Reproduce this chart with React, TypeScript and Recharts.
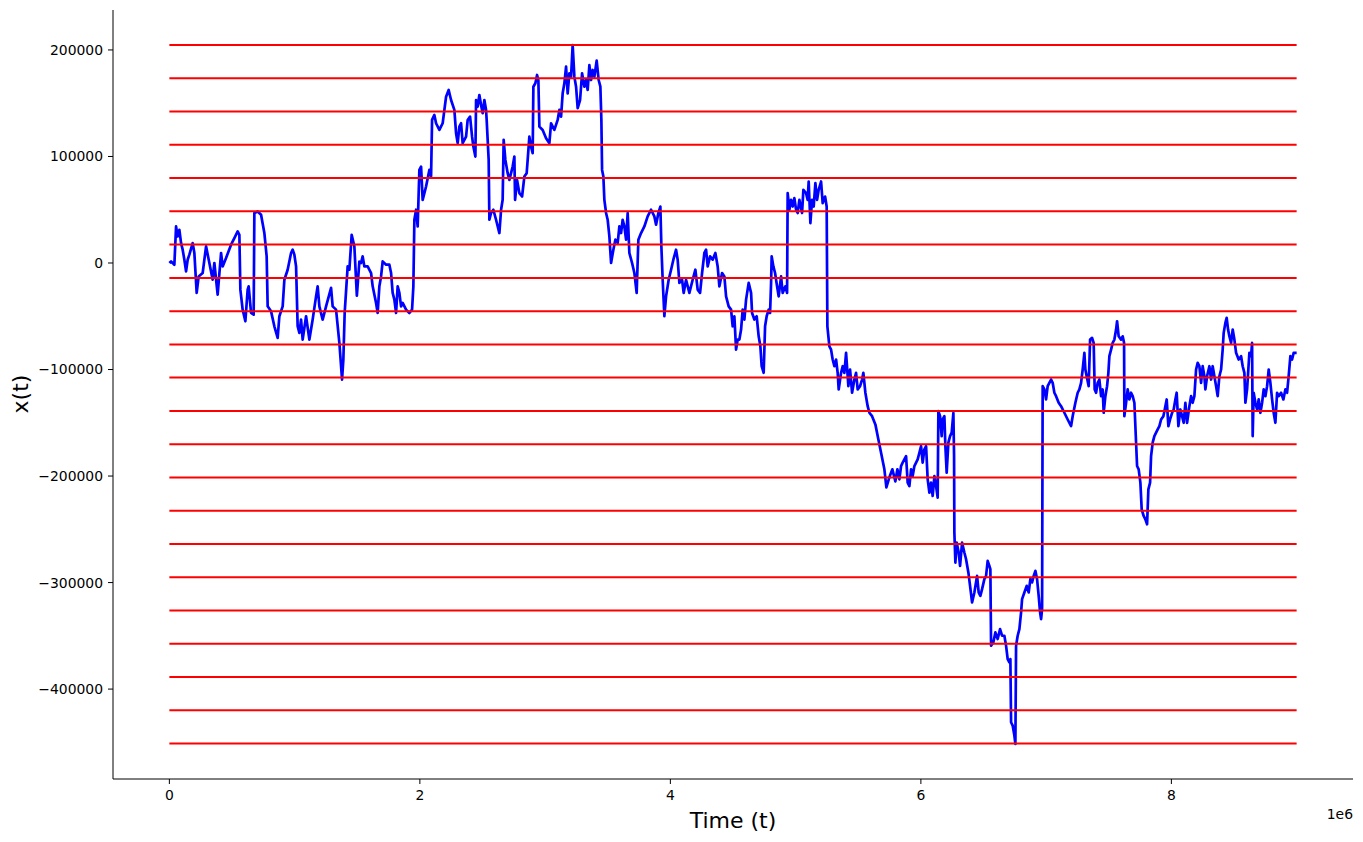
import { LineChart, Line, XAxis, YAxis } from 'recharts'

// random walk x(t): [time, position]
const WALK: [number, number][] = [
  [0, 0], [13600, 1500], [39900, -1600], [53500, 34300], [66300, 24900], [79800, 31200],
  [93400, 18700], [106200, 12500], [119800, 3100], [133300, -7900], [146100, 3100], [159700, 7800],
  [186000, 18700], [199600, 9400], [218000, -28100], [233900, -12600], [265900, -9400], [293000, 15600],
  [319400, 0], [345700, -15700], [359300, 0], [385600, -29700], [412800, 9400], [425600, -3200],
  [452700, 4700], [492600, 17200], [519000, 23400], [545300, 29600], [558900, 26500], [566900, -25000],
  [585200, -43800], [606800, -54700], [625100, -25000], [633100, -21900], [652300, -46900], [673000, -48500],
  [678600, 46900], [705000, 48400], [732100, 45300], [758500, 28100], [776800, 6200], [784800, -40700],
  [812000, -45400], [838300, -59400], [864700, -70300], [878200, -50000], [904600, -40700], [918200, -15700],
  [944500, -6300], [971600, 9400], [984400, 12500], [998000, 7800], [1011600, -3200], [1024300, -59400],
  [1037900, -65600], [1051500, -53100], [1064300, -71900], [1091400, -50000], [1117800, -71900], [1144100, -53100],
  [1171200, -31300], [1184000, -21900], [1197600, -40700], [1223900, -53100], [1251100, -40700], [1291000, -23400],
  [1303800, -40700], [1330900, -43800], [1357300, -75000], [1378800, -109400], [1389200, -90600], [1399600, -46900],
  [1423500, -3200], [1437100, -6300], [1455500, 26500], [1477000, 15600], [1497000, -30600], [1517000, 1200],
  [1530500, 0], [1543300, 6200], [1556900, -3200], [1583200, -3200], [1610400, -9400], [1623200, -21900],
  [1650300, -37500], [1663100, -46900], [1676600, -21900], [1690200, -12600], [1703000, 1500], [1730100, -1600],
  [1756500, -1600], [1770100, -9400], [1782800, -28100], [1796400, -34400], [1810000, -46900], [1822800, -21900],
  [1836300, -28100], [1849900, -40700], [1862700, -37500], [1889800, -43800], [1916200, -46900], [1937700, -43800],
  [1948100, -21900], [1956100, 40600], [1969700, 50000], [1982400, 34300], [1996000, 87400], [2009600, 90500],
  [2022400, 59300], [2049500, 71800], [2075800, 87400], [2089400, 81200], [2097400, 134300], [2115800, 139000],
  [2129300, 131200], [2155700, 124900], [2182000, 131200], [2209200, 156100], [2229900, 162400], [2249100, 153000],
  [2275400, 143700], [2289000, 121800], [2301800, 112500], [2315400, 128000], [2328900, 131200], [2341700, 112500],
  [2368900, 118600], [2381600, 134300], [2400800, 137400], [2416800, 118600], [2427100, 109300], [2443100, 99900],
  [2448700, 153000], [2461500, 146800], [2475000, 157700], [2488600, 148400], [2501400, 140600], [2515000, 153000],
  [2528500, 143700], [2533300, 134300], [2541300, 115600], [2549300, 96800], [2554900, 40600], [2568400, 46900],
  [2586800, 50000], [2608300, 40600], [2634700, 28100], [2648300, 50000], [2661000, 59300], [2669000, 115600],
  [2682600, 96800], [2701000, 84300], [2714600, 78000], [2740900, 90500], [2754500, 99900], [2760100, 59300],
  [2776000, 78000], [2794400, 65600], [2816000, 62400], [2834300, 81200], [2852700, 84300], [2860700, 96800],
  [2874200, 118600], [2887800, 109300], [2900600, 103100], [2906200, 165500], [2922100, 168700], [2935700, 176500],
  [2946100, 171800], [2954100, 128000], [2980400, 124900], [3007600, 117100], [3033900, 112500], [3047500, 131200],
  [3073800, 124900], [3100200, 134300], [3113800, 143700], [3127300, 137400], [3140100, 159300], [3153700, 168700],
  [3167200, 184300], [3180000, 159300], [3193600, 178100], [3207200, 174900], [3219900, 204600], [3233500, 174900],
  [3247100, 165500], [3259900, 145300], [3279000, 153000], [3295000, 178100], [3313400, 165500], [3326900, 171800],
  [3339700, 162400], [3353300, 185800], [3366800, 171800], [3379600, 181200], [3393200, 174900], [3411500, 189900],
  [3427500, 171800], [3441100, 165500], [3449100, 134300], [3454700, 87400], [3465100, 81200], [3473000, 59300],
  [3486600, 46900], [3499400, 40600], [3513000, 24900], [3526500, 0], [3544900, 12500], [3560900, 21900],
  [3579200, 18700], [3592800, 34300], [3606400, 28100], [3619100, 40600], [3632700, 34300], [3646300, 21900],
  [3659100, 46900], [3672600, 9400], [3694200, 0], [3712600, -9400], [3730900, -28100], [3744500, 21900],
  [3766000, 28100], [3792400, 34300], [3818700, 43700], [3845900, 50000], [3872200, 43700], [3885800, 35900],
  [3904200, 46900], [3920100, 53000], [3928100, 15600], [3938500, -15700], [3952100, -50000], [3965600, -31300],
  [3986400, -15700], [4005600, -6300], [4023900, 3100], [4045500, 12500], [4058200, 3100], [4071800, -18700],
  [4093400, -15700], [4106200, -28100], [4125300, -15700], [4151700, -28100], [4178000, -15700], [4199600, -6300],
  [4218000, -25000], [4237100, -28100], [4253100, -9400], [4271400, 9400], [4285000, 12500], [4297800, -3200],
  [4316900, 6200], [4337700, 3100], [4359300, 9400], [4377600, -3200], [4391200, -21900], [4412800, -9400],
  [4431100, -12600], [4444700, -31300], [4465500, -40700], [4484600, -43800], [4497400, -59400], [4511000, -50000],
  [4524500, -81300], [4537300, -71900], [4550900, -71900], [4564500, -62500], [4577200, -43800], [4590800, -53100],
  [4604400, -34400], [4625100, -18700], [4644300, -28100], [4652300, -46900], [4670600, -53100], [4689000, -50000],
  [4705000, -68800], [4718500, -78200], [4728900, -96900], [4744900, -103100], [4756100, -59400], [4768800, -50000],
  [4784800, -43800], [4796000, -46900], [4804000, -18700], [4808800, 6200], [4822300, -3200], [4835900, -9400],
  [4851900, -21900], [4864700, -31300], [4883800, -12600], [4896600, -28100], [4918100, -21900], [4931700, -28100],
  [4936500, 65600], [4950100, 50000], [4963600, 59300], [4976400, 53000], [4990000, 60900], [5003600, 50000],
  [5016300, 46900], [5029900, 59300], [5051500, 46900], [5061900, 68700], [5083400, 65600], [5096200, 59300],
  [5104200, 76500], [5117800, 37500], [5131300, 59300], [5144100, 53000], [5157700, 75000], [5171300, 59300],
  [5184000, 68700], [5203200, 76500], [5216000, 56200], [5235200, 62400], [5247900, 53000], [5253500, -59400],
  [5269500, -78200], [5283000, -81300], [5295800, -90600], [5309400, -96900], [5323000, -90600], [5335700, -103100],
  [5343700, -118700], [5362900, -103100], [5375700, -96900], [5389200, -103100], [5402800, -84300], [5421100, -115600],
  [5434700, -100000], [5450700, -121800], [5469000, -109400], [5482600, -103100], [5495400, -118700], [5514600, -115600],
  [5530500, -109400], [5540900, -103100], [5556900, -121800], [5575200, -134400], [5588800, -140600], [5610400, -143800],
  [5636700, -151500], [5660700, -165600], [5684600, -179600], [5708600, -193700], [5724500, -210600], [5748500, -201200],
  [5772400, -193700], [5796400, -205000], [5812400, -193700], [5828300, -203100], [5841900, -190600], [5854700, -187400],
  [5868200, -184300], [5881800, -181300], [5894600, -206200], [5908200, -209400], [5921700, -193700], [5934500, -200000],
  [5948100, -190600], [5974400, -184300], [5988000, -178100], [6001600, -171900], [6014300, -187400], [6027900, -175000],
  [6041500, -171900], [6054300, -203100], [6067800, -215600], [6081400, -206200], [6094200, -218700], [6107800, -200000],
  [6121300, -209400], [6134100, -220200], [6139700, -139100], [6153200, -143800], [6166000, -162500], [6174000, -146900],
  [6187600, -143800], [6195600, -171900], [6206000, -196800], [6219500, -168700], [6233100, -162500], [6245900, -159300],
  [6259500, -140600], [6265000, -181300], [6267400, -253000], [6275400, -281200], [6285800, -262400], [6301700, -271800],
  [6312900, -284300], [6328900, -262400], [6347200, -271800], [6360800, -278100], [6379200, -290500], [6392700, -303100],
  [6408700, -318600], [6427100, -309300], [6448600, -293700], [6461400, -309300], [6475000, -312500], [6488600, -306200],
  [6506900, -296800], [6520500, -293700], [6533300, -279700], [6546900, -284300], [6554800, -287400], [6560400, -359300],
  [6578800, -356100], [6594700, -346800], [6613100, -353000], [6632300, -343700], [6648200, -349900], [6666600, -349900],
  [6680200, -359300], [6693000, -371800], [6706500, -374900], [6714500, -371800], [6720100, -431100], [6732900, -434300],
  [6746500, -443700], [6754400, -451500], [6760000, -359300], [6772800, -349900], [6786400, -343700], [6800000, -328000],
  [6808000, -315600], [6826300, -309300], [6844700, -303100], [6860700, -309300], [6874200, -296800], [6887800, -299900],
  [6900600, -293700], [6914200, -289000], [6927700, -296800], [6940500, -312500], [6951700, -328000], [6959700, -334300],
  [6967700, -324900], [6972400, -115600], [6986000, -118700], [6999600, -128100], [7012300, -115600], [7039500, -109400],
  [7052300, -112500], [7065800, -121800], [7079400, -125000], [7100200, -131200], [7119300, -134400], [7145700, -140600],
  [7172000, -146900], [7199200, -153100], [7211900, -143800], [7233500, -131200], [7251900, -121800], [7265400, -118700],
  [7279000, -112500], [7291800, -100000], [7305400, -84300], [7313300, -100000], [7323700, -106300], [7339700, -115600],
  [7350900, -71900], [7366800, -70300], [7379600, -75000], [7387600, -118700], [7398800, -121800], [7411600, -112500],
  [7425100, -109400], [7438700, -125000], [7451500, -118700], [7459500, -140600], [7473000, -125000], [7486600, -115600],
  [7497000, -103100], [7505000, -87500], [7518500, -81300], [7531300, -75000], [7544900, -71900], [7558500, -62500],
  [7566400, -54700], [7579200, -68800], [7598400, -71900], [7611200, -68800], [7622300, -75000], [7624700, -143800],
  [7638300, -131200], [7651100, -118700], [7664600, -128100], [7678200, -121800], [7691000, -125000], [7704600, -131200],
  [7718100, -168700], [7726100, -190600], [7738900, -193700], [7752500, -206200], [7762900, -231200], [7778800, -237500],
  [7792400, -240600], [7806000, -245300], [7816300, -212500], [7829900, -206200], [7837900, -181300], [7850700, -168700],
  [7864200, -162500], [7877800, -159300], [7890600, -156200], [7904200, -153100], [7917700, -146900], [7936100, -143800],
  [7952100, -134400], [7962500, -128100], [7976000, -153100], [7989600, -146900], [8005600, -140600], [8018400, -137500],
  [8031900, -128100], [8042300, -121800], [8055900, -153100], [8071800, -137500], [8085400, -143800], [8098200, -150000],
  [8111700, -131200], [8125300, -150000], [8143700, -134400], [8157200, -125000], [8170000, -131200], [8183600, -125000],
  [8197200, -100000], [8209900, -93700], [8223500, -96900], [8237100, -112500], [8249800, -96900], [8263400, -106300],
  [8271400, -118700], [8285000, -106300], [8303400, -96900], [8316900, -109400], [8329700, -96900], [8343300, -106300],
  [8356800, -115600], [8369600, -125000], [8383200, -106300], [8396800, -100000], [8409500, -81300], [8417500, -65600],
  [8431100, -56200], [8441500, -51500], [8452700, -62500], [8463000, -68800], [8476600, -75000], [8489400, -62500],
  [8503000, -71900], [8516500, -84300], [8537300, -90600], [8556500, -87500], [8569300, -96900], [8582800, -103100],
  [8590800, -131200], [8604400, -118700], [8622700, -84300], [8636300, -87500], [8644300, -75000], [8649100, -162500],
  [8657100, -121800], [8670600, -131200], [8684200, -137500], [8697000, -128100], [8710600, -140600], [8724200, -131200],
  [8736900, -118700], [8750500, -125000], [8764100, -115600], [8776800, -100000], [8790400, -112500], [8804000, -128100],
  [8816700, -140600], [8830300, -150000], [8843900, -121800], [8856600, -125000], [8875800, -121800], [8894200, -128100],
  [8910100, -118700], [8923700, -121800], [8936500, -106300], [8950000, -87500], [8963600, -90600], [8976400, -84300],
  [9000000, -84300],
]

// horizontal red levels
const LEVELS = [
  204600, 173400, 142200, 110900, 79700, 48500, 17300, -14000, -45200, -76400, -107600,
  -138900, -170100, -201300, -232500, -263800, -295000, -326200, -357400, -388700, -419900, -451100,
]

const T_START = 0
const T_END = 9000000
const X_TICKS = [0, 2000000, 4000000, 6000000, 8000000]
const Y_TICKS = [-400000, -300000, -200000, -100000, 0, 100000, 200000]

const walkData = WALK.map(([t, x]) => ({ t, x }))

const FONT = '"DejaVu Sans", sans-serif'
const fmtY = (v: number) => (v < 0 ? '\u2212' + Math.abs(v) : String(v))
const fmtX = (v: number) => String(v / 1e6)

export default function App() {
  return (
    <div style={{ position: 'absolute', left: 0, top: 0, width: 1363, height: 842, background: '#fff' }}>
      <LineChart
        width={1363}
        height={842}
        data={walkData}
        margin={{ top: 10, right: 10, bottom: 23, left: 53 }}
      >
        <XAxis
          dataKey="t"
          type="number"
          domain={[-450000, 9450000]}
          allowDataOverflow
          ticks={X_TICKS}
          tickFormatter={fmtX}
          height={40}
          stroke="#000"
          tickSize={5}
          tickMargin={6}
          tick={{ fill: '#000', fontSize: 13.9, fontFamily: FONT }}
        />
        <YAxis
          type="number"
          domain={[-484400, 237500]}
          allowDataOverflow
          ticks={Y_TICKS}
          tickFormatter={fmtY}
          width={60}
          stroke="#000"
          tickSize={5}
          tickMargin={5}
          tick={{ fill: '#000', fontSize: 13.9, fontFamily: FONT }}
        />
        <Line
          dataKey="x"
          stroke="#0000ff"
          strokeWidth={2.7}
          strokeLinejoin="round"
          dot={false}
          isAnimationActive={false}
        />
        {LEVELS.map((lv, i) => (
          <Line
            key={i}
            data={[{ t: T_START, x: lv }, { t: T_END, x: lv }]}
            dataKey="x"
            stroke="#ff0000"
            strokeWidth={2}
            dot={false}
            isAnimationActive={false}
          />
        ))}
        <text x={733} y={828} textAnchor="middle" fontSize={22} fontFamily={FONT} fill="#000">
          Time (t)
        </text>
        <text
          x={28}
          y={394}
          textAnchor="middle"
          fontSize={22}
          fontFamily={FONT}
          fill="#000"
          transform="rotate(-90, 28, 394)"
        >
          x(t)
        </text>
        <text x={1353} y={819} textAnchor="end" fontSize={13.9} fontFamily={FONT} fill="#000">
          1e6
        </text>
      </LineChart>
    </div>
  )
}
